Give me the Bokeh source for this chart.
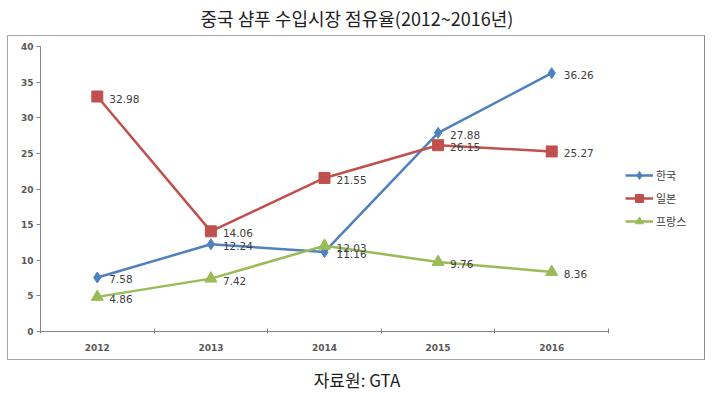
from bokeh.plotting import figure
from bokeh.layouts import column
from bokeh.models import (Legend, LegendItem, FixedTicker, Div,
                          ColumnDataSource, Range1d, InlineStyleSheet)
from bokeh.embed import file_html
from bokeh.resources import INLINE
from bokeh.core.properties import value

# ---- data ----
years = ["2012", "2013", "2014", "2015", "2016"]
korea = [7.58, 12.24, 11.16, 27.88, 36.26]
japan = [32.98, 14.06, 21.55, 26.15, 25.27]
france = [4.86, 7.42, 12.03, 9.76, 8.36]
series_names = ["한국", "일본", "프랑스"]
y_ticks = [0, 5, 10, 15, 20, 25, 30, 35, 40]
title_text = "중국 샴푸 수입시장 점유율(2012~2016년)"
source_text = "자료원: GTA"

W = 714
TOP_H, FIG_H, BOT_H = 35, 327, 31
KFONT = "Noto Sans CJK KR"
NFONT = "DejaVu Sans"

# layout inside the figure (pixels)
FL, FR, FT, FB = 40, 706, 11, 296      # frame edges (figure coords)
AXIS_R = 608                            # where the x axis ends
n = len(years)
x_end = n * (FR - FL) / (AXIS_R - FL)   # extend range so legend fits in frame

xs = [i + 0.5 for i in range(n)]

box_css = InlineStyleSheet(css="""
:host { position: relative; }
:host::after {
  content: ""; position: absolute; left: 7px; top: 0px;
  width: 698px; height: 325px; border: 1px solid #A6A6A6;
  border-right-color: #8C8C8C; pointer-events: none;
}
""")

p = figure(width=W, height=FIG_H, output_backend="svg", toolbar_location=None,
           x_range=Range1d(0, x_end), y_range=Range1d(0, 40),
           min_border_left=FL, min_border_right=W - FR, min_border_top=FT,
           min_border_bottom=FIG_H - FB, stylesheets=[box_css], margin=0)
p.outline_line_color = None
p.xgrid.grid_line_color = None
p.ygrid.grid_line_color = None
p.background_fill_color = "white"
p.border_fill_color = "white"

# axes
ax = p.xaxis[0]
ax.bounds = (0, n)
ax.ticker = FixedTicker(ticks=xs, minor_ticks=list(range(n + 1)))
ax.major_label_overrides = {x: y for x, y in zip(xs, years)}
ax.major_tick_in = 0
ax.major_tick_out = 0
ax.minor_tick_in = 3
ax.minor_tick_out = 2
ax.minor_tick_line_color = "#868686"
ax.axis_line_color = "#868686"
ax.major_label_standoff = 10
ax.major_label_text_font = NFONT
ax.major_label_text_font_size = "9px"
ax.major_label_text_font_style = "bold"
ax.major_label_text_color = "#595959"

ay = p.yaxis[0]
ay.ticker = FixedTicker(ticks=y_ticks, minor_ticks=[])
ay.major_tick_in = 0
ay.major_tick_out = 4
ay.major_tick_line_color = "#868686"
ay.axis_line_color = "#868686"
ay.minor_tick_line_color = None
ay.major_label_standoff = 3
ay.major_label_text_font = NFONT
ay.major_label_text_font_size = "9px"
ay.major_label_text_font_style = "bold"
ay.major_label_text_color = "#595959"

colors = ["#4F81BD", "#C0504D", "#9BBB59"]
markers = ["diamond", "square", "triangle"]
msizes = [11, 11, 12]
items = []
for name, vals, c, m, ms in zip(series_names, [korea, japan, france], colors, markers, msizes):
    src = ColumnDataSource(dict(x=xs, y=vals, lab=["%.2f" % v for v in vals]))
    ln = p.line("x", "y", source=src, line_color=c, line_width=2.5)
    sc = p.scatter("x", "y", source=src, marker=m, size=ms, fill_color=c, line_color=c)
    p.text("x", "y", text="lab", source=src, x_offset=12, y_offset=2,
           text_baseline="middle", text_align="left",
           text_font=value(NFONT), text_font_size="10.5px", text_color="#404040")
    items.append(LegendItem(label=name, renderers=[ln, sc]))

leg = Legend(items=items, location=(585, 100), orientation="vertical",
             glyph_width=28, glyph_height=20, spacing=3, padding=0, margin=0,
             label_standoff=3, label_text_font=KFONT, label_text_font_size="11px",
             label_text_color="#404040", border_line_color=None,
             background_fill_alpha=0)
p.add_layout(leg, "center")

txt_style = {"font-family": KFONT, "color": "#222222", "text-align": "center",
             "width": "%dpx" % W, "display": "block"}
title_div = Div(text=title_text, width=W, height=TOP_H, margin=0,
                styles=dict(txt_style, **{"font-size": "18px", "line-height": "36px"}))
source_div = Div(text=source_text, width=W, height=BOT_H, margin=0,
                 styles=dict(txt_style, **{"font-size": "17px", "line-height": "36px"}))

layout = column(title_div, p, source_div, spacing=0, margin=0)

open("out.html", "w").write(file_html(layout, INLINE))
